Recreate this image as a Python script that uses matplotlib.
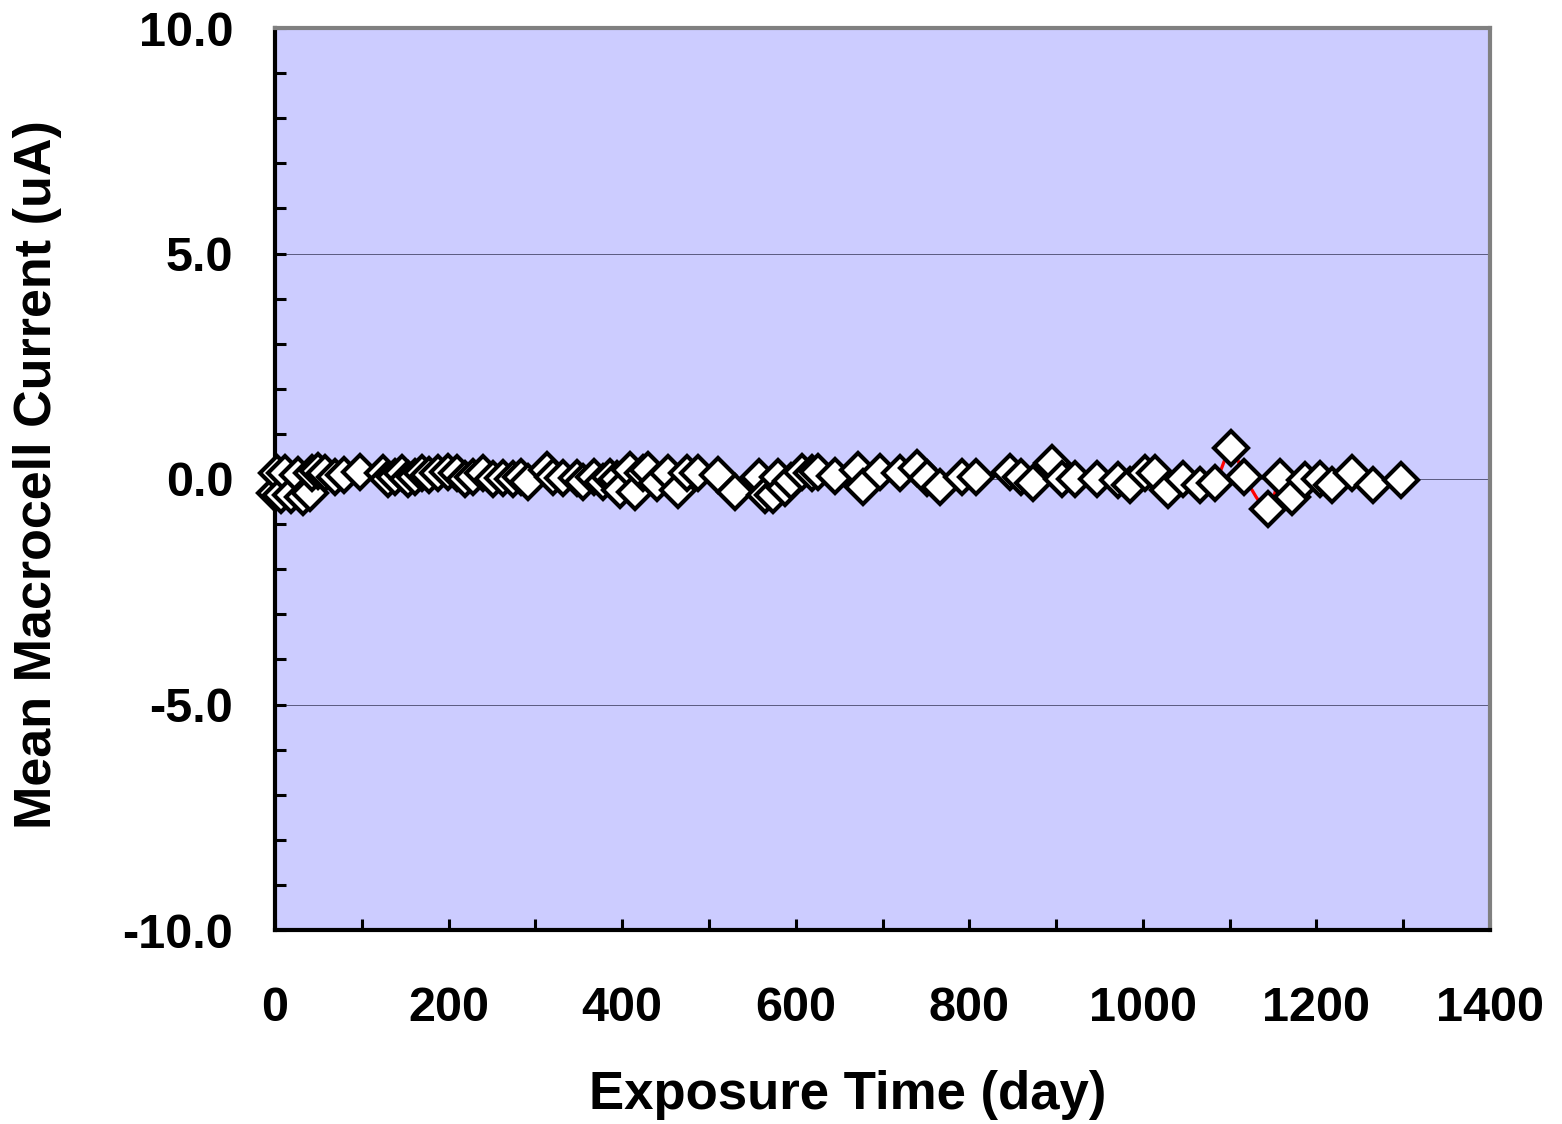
import numpy as np
import matplotlib
matplotlib.use("Agg")
import matplotlib.pyplot as plt
from matplotlib.ticker import MultipleLocator, FormatStrFormatter

plt.rcParams['font.family'] = ['Liberation Sans', 'DejaVu Sans']
plt.rcParams['font.weight'] = 'bold'

# Exposure time (day) and mean macrocell current (uA)
days = [0, 2, 7, 12, 18, 26, 32, 40, 43, 50, 58, 69, 80, 98,
        124, 130, 138, 146, 153, 161, 169, 177, 188, 199, 210, 219,
        228, 240, 251, 263, 274, 284, 291, 313, 320, 332, 348, 355,
        367, 378, 386, 394, 397, 409, 415, 424, 430, 440, 453, 464,
        475, 487, 510, 530, 558, 565, 574, 580, 588, 595, 607, 619,
        626, 645, 672, 677, 697, 720, 740, 751, 766, 792, 808, 847,
        860, 873, 895, 907, 922, 947, 971, 985, 1002, 1014, 1029,
        1046, 1066, 1083, 1102, 1117, 1144, 1158, 1172, 1187, 1204,
        1218, 1241, 1265, 1298]
current = [-0.30, 0.13, -0.35, 0.13, -0.35, 0.09, -0.40, -0.30, 0.13, 0.18,
           0.13, 0.04, 0.09, 0.16, 0.13, 0.00, 0.04, 0.13, 0.00, 0.04,
           0.13, 0.09, 0.13, 0.16, 0.13, 0.00, 0.04, 0.13, 0.00, 0.02,
           0.00, 0.04, -0.07, 0.20, 0.04, 0.02, 0.02, -0.07, 0.04, -0.07,
           0.04, 0.00, -0.24, 0.20, -0.29, 0.13, 0.20, -0.09, 0.13, -0.24,
           0.13, 0.13, 0.09, -0.29, 0.04, -0.35, -0.35, 0.04, -0.20, -0.05,
           0.16, 0.13, 0.16, 0.07, 0.20, -0.17, 0.16, 0.13, 0.24, 0.02,
           -0.17, 0.04, 0.04, 0.16, 0.04, -0.09, 0.35, 0.00, 0.00, 0.00,
           -0.02, -0.13, 0.13, 0.13, -0.24, 0.00, -0.13, -0.09, 0.69, 0.04,
           -0.67, 0.04, -0.40, -0.02, 0.00, -0.13, 0.13, -0.13, -0.02]


def catmull_rom(x, y, n=20):
    # smoothed connecting line through every point
    px = np.concatenate([[x[0]], x, [x[-1]]])
    py = np.concatenate([[y[0]], y, [y[-1]]])
    t = np.linspace(0, 1, n, endpoint=False)
    xs, ys = [], []
    for i in range(1, len(px) - 2):
        for p, out in ((px, xs), (py, ys)):
            p0, p1, p2, p3 = p[i - 1], p[i], p[i + 1], p[i + 2]
            out.extend(0.5 * ((2 * p1) + (-p0 + p2) * t
                              + (2 * p0 - 5 * p1 + 4 * p2 - p3) * t ** 2
                              + (-p0 + 3 * p1 - 3 * p2 + p3) * t ** 3))
    xs.append(x[-1])
    ys.append(y[-1])
    return np.array(xs), np.array(ys)


x = np.array(days, dtype=float)
y = np.array(current, dtype=float)
sx, sy = catmull_rom(x, y)

fig = plt.figure(figsize=(15.62, 11.24), dpi=100)
ax = fig.add_axes([275 / 1562, 1 - 930 / 1124, (1490 - 275) / 1562, (930 - 28) / 1124])
ax.set_facecolor('#CCCCFF')

for yy in (-5, 0, 5):
    ax.axhline(yy, color='#5A5A80', linewidth=0.7, zorder=1)

ax.plot(sx, sy, color='red', linewidth=2.3, zorder=2)
ax.plot(x, y, linestyle='none', marker='D', markersize=17,
        markerfacecolor='white', markeredgecolor='black',
        markeredgewidth=3, zorder=3, clip_on=False)

ax.set_xlim(0, 1400)
ax.set_ylim(-10, 10)

ax.xaxis.set_major_locator(MultipleLocator(200))
ax.xaxis.set_minor_locator(MultipleLocator(100))
ax.yaxis.set_major_locator(MultipleLocator(5))
ax.yaxis.set_minor_locator(MultipleLocator(1))
ax.yaxis.set_major_formatter(FormatStrFormatter('%.1f'))

ax.tick_params(axis='both', which='both', direction='in', length=8,
               width=2.2, color='black', labelsize=35)
ax.tick_params(axis='x', which='both', top=False, pad=40)
ax.tick_params(axis='y', which='both', right=False, pad=30)

for side in ('left', 'bottom'):
    ax.spines[side].set_color('black')
    ax.spines[side].set_linewidth(3)
for side in ('top', 'right'):
    ax.spines[side].set_color('#808080')
    ax.spines[side].set_linewidth(3)

ax.set_xlabel('Exposure Time (day)', fontsize=38, fontweight='bold',
              va='center', ha='center')
ax.set_ylabel('Mean Macrocell Current (uA)', fontsize=37.5, fontweight='bold',
              va='center', ha='center')
ax.xaxis.set_label_coords((848 - 275) / 1215, (930 - 1095) / 902)
ax.yaxis.set_label_coords((38 - 275) / 1215, (930 - 475) / 902)

fig.savefig('out.png', dpi=100)
